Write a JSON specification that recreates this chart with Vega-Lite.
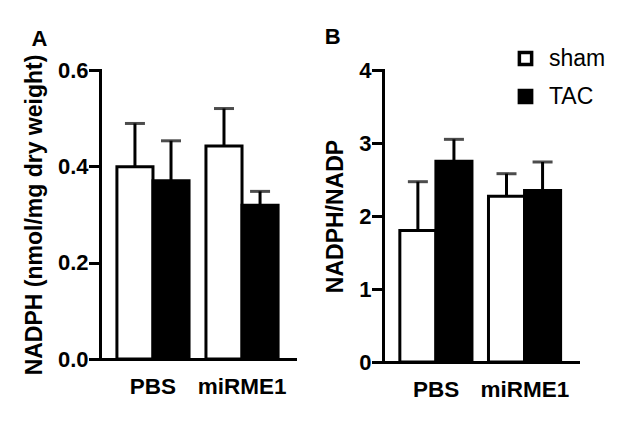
{
  "$schema": "https://vega.github.io/schema/vega-lite/v6.json",
  "autosize": "none",
  "padding": {"left": 100, "top": 70, "right": 530, "bottom": 352},
  "background": "white",
  "spacing": 88,
  "bounds": "flush",
  "resolve": {"scale": {"fill": "independent"}, "legend": {"fill": "independent"}},
  "config": {
    "font": "Liberation Sans",
    "view": {"stroke": null},
    "axis": {
      "domainColor": "black", "domainWidth": 3, "domainCap": "square",
      "tickColor": "black", "tickWidth": 3, "tickSize": 10, "tickCap": "square",
      "labelColor": "black", "labelFont": "Liberation Sans", "labelFontWeight": "bold", "labelFontSize": 22, "labelPadding": 2,
      "titleFont": "Liberation Sans", "titleFontWeight": "bold", "titleFontSize": 23, "titleColor": "black", "titlePadding": 11,
      "grid": false
    },
    "title": {"font": "Liberation Sans", "fontWeight": "bold", "fontSize": 22, "color": "black", "anchor": "start", "frame": "bounds"}
  },
  "hconcat": [
    {
      "width": 195,
      "height": 289,
      "title": {"text": "A", "offset": 3, "dx": 8},
      "data": {"values": [
        {"group": "PBS", "treatment": "sham", "mean": 0.399, "upper": 0.489},
        {"group": "PBS", "treatment": "TAC", "mean": 0.370, "upper": 0.453},
        {"group": "miRME1", "treatment": "sham", "mean": 0.442, "upper": 0.520},
        {"group": "miRME1", "treatment": "TAC", "mean": 0.319, "upper": 0.348}
      ]},
      "encoding": {
        "x": {"field": "group", "type": "nominal", "sort": ["PBS", "miRME1"], "scale": {"paddingInner": 0.19, "paddingOuter": 0.19},
              "axis": {"title": null, "ticks": false, "labelAngle": 0, "labelPadding": 16, "labelFontSize": 22.5}},
        "xOffset": {"field": "treatment", "type": "nominal", "sort": ["sham", "TAC"], "scale": {"paddingInner": 0, "paddingOuter": 0}}
      },
      "layer": [
        {
          "mark": {"type": "rule", "color": "black", "strokeWidth": 3},
          "encoding": {
            "y": {"field": "mean", "type": "quantitative", "title": "NADPH (nmol/mg dry weight)"},
            "y2": {"field": "upper"}
          }
        },
        {
          "mark": {"type": "tick", "color": "black", "thickness": 3, "size": 20},
          "encoding": {"y": {"field": "upper", "type": "quantitative", "title": "NADPH (nmol/mg dry weight)"}}
        },
        {
          "mark": {"type": "bar", "stroke": "black", "strokeWidth": 3, "strokeJoin": "miter"},
          "encoding": {
            "y": {"field": "mean", "type": "quantitative", "title": "NADPH (nmol/mg dry weight)",
                  "scale": {"domain": [0, 0.6], "nice": false},
                  "axis": {"values": [0, 0.2, 0.4, 0.6], "format": ".1f"}},
            "fill": {"field": "treatment", "type": "nominal", "scale": {"domain": ["sham", "TAC"], "range": ["white", "black"]}, "legend": null}
          }
        }
      ]
    },
    {
      "width": 195,
      "height": 292,
      "title": {"text": "B", "offset": -2, "dx": 0},
      "data": {"values": [
        {"group": "PBS", "treatment": "sham", "mean": 1.80, "upper": 2.47},
        {"group": "PBS", "treatment": "TAC", "mean": 2.75, "upper": 3.05},
        {"group": "miRME1", "treatment": "sham", "mean": 2.27, "upper": 2.58},
        {"group": "miRME1", "treatment": "TAC", "mean": 2.35, "upper": 2.74}
      ]},
      "encoding": {
        "x": {"field": "group", "type": "nominal", "sort": ["PBS", "miRME1"], "scale": {"paddingInner": 0.18, "paddingOuter": 0.19},
              "axis": {"title": null, "ticks": false, "labelAngle": 0, "labelPadding": 16, "labelFontSize": 22.5}},
        "xOffset": {"field": "treatment", "type": "nominal", "sort": ["sham", "TAC"], "scale": {"paddingInner": 0, "paddingOuter": 0}}
      },
      "layer": [
        {
          "mark": {"type": "rule", "color": "black", "strokeWidth": 3},
          "encoding": {
            "y": {"field": "mean", "type": "quantitative", "title": "NADPH/NADP"},
            "y2": {"field": "upper"}
          }
        },
        {
          "mark": {"type": "tick", "color": "black", "thickness": 3, "size": 20},
          "encoding": {"y": {"field": "upper", "type": "quantitative", "title": "NADPH/NADP"}}
        },
        {
          "mark": {"type": "bar", "stroke": "black", "strokeWidth": 3, "strokeJoin": "miter"},
          "encoding": {
            "y": {"field": "mean", "type": "quantitative", "title": "NADPH/NADP",
                  "scale": {"domain": [0, 4], "nice": false},
                  "axis": {"values": [0, 1, 2, 3, 4], "format": "d"}},
            "fill": {"field": "treatment", "type": "nominal", "scale": {"domain": ["sham", "TAC"], "range": ["white", "black"]},
                     "legend": {"orient": "none", "legendX": 131, "legendY": -23, "title": null,
                                "symbolType": "square", "symbolSize": 150, "symbolStrokeColor": "black", "symbolStrokeWidth": 3.5,
                                "labelFontSize": 23, "labelFont": "Liberation Sans", "labelFontWeight": "normal", "labelColor": "black",
                                "labelOffset": 12, "rowPadding": 11, "padding": 0}}
          }
        }
      ]
    }
  ]
}
